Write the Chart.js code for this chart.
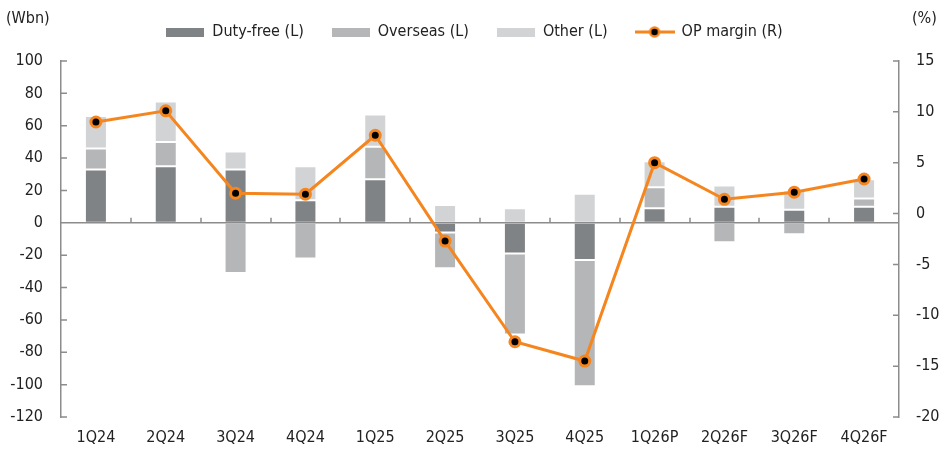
<!DOCTYPE html>
<html>
<head>
<meta charset="utf-8">
<script src="https://cdn.jsdelivr.net/npm/chart.js@4.4.1/dist/chart.umd.min.js"></script>
<style>
  html, body { margin: 0; padding: 0; background: #fff; }
  #wrap { position: relative; width: 949px; height: 453px; }
  .unit { position: absolute; top: 8px; font: 16px 'Liberation Sans Narrow', 'DejaVu Sans Condensed', sans-serif; color: #222; }
</style>
</head>
<body>
<div id="wrap">
  <canvas id="chart" width="949" height="453"></canvas>
  <span class="unit" style="left:6px">(Wbn)</span>
  <span class="unit" style="left:912px">(%)</span>
</div>
<script>
const quarters = ['1Q24', '2Q24', '3Q24', '4Q24', '1Q25', '2Q25', '3Q25', '4Q25', '1Q26P', '2Q26F', '3Q26F', '4Q26F'];
const dutyFree = [33, 35, 33, 14, 27, -6, -19, -23, 9, 10, 8, 10];
const overseas = [13, 15, -31, -22, 20, -22, -50, -78, 13, -12, -7, 5];
const other = [20, 25, 11, 21, 20, 11, 9, 18, 16, 13, 12, 12];
const opMargin = [9.0, 10.1, 2.0, 1.9, 7.7, -2.7, -12.6, -14.5, 5.0, 1.4, 2.1, 3.4];

const FONT = "'Liberation Sans Narrow', 'DejaVu Sans Condensed', sans-serif";
const TEXT = '#222';
const AXIS = '#8c8c8c';
const ORANGE = '#f5861f';

// legend icons
function boxIcon(color) {
  const c = document.createElement('canvas');
  c.width = 38; c.height = 9;
  const g = c.getContext('2d');
  g.fillStyle = color;
  g.fillRect(0, 0, 38, 9);
  return c;
}
function lineIcon() {
  const c = document.createElement('canvas');
  c.width = 40; c.height = 14;
  const g = c.getContext('2d');
  g.strokeStyle = ORANGE; g.lineWidth = 3;
  g.beginPath(); g.moveTo(0, 7); g.lineTo(40, 7); g.stroke();
  g.beginPath(); g.arc(20, 7, 4.5, 0, Math.PI * 2);
  g.fillStyle = '#000'; g.fill();
  g.lineWidth = 2.5; g.stroke();
  return c;
}

// zero line with category ticks, inward y ticks
const axisDecor = {
  id: 'axisDecor',
  beforeDatasetDraw(chart, args) {
    if (args.index !== 3) return;
    const { ctx, chartArea, scales: { x, y, y1 } } = chart;
    ctx.save();
    ctx.strokeStyle = AXIS;
    ctx.lineWidth = 1.5;
    const y0 = y.getPixelForValue(0);
    ctx.beginPath();
    ctx.moveTo(chartArea.left, y0);
    ctx.lineTo(chartArea.right, y0);
    for (let i = 0; i < quarters.length - 1; i++) {
      const px = Math.round((x.getPixelForValue(i) + x.getPixelForValue(i + 1)) / 2);
      ctx.moveTo(px, y0);
      ctx.lineTo(px, y0 - 5);
    }
    y.ticks.forEach(t => {
      const py = y.getPixelForValue(t.value);
      ctx.moveTo(chartArea.left, py);
      ctx.lineTo(chartArea.left + 6, py);
    });
    y1.ticks.forEach(t => {
      const py = y1.getPixelForValue(t.value);
      ctx.moveTo(chartArea.right, py);
      ctx.lineTo(chartArea.right - 6, py);
    });
    ctx.stroke();
    ctx.restore();
  }
};

const legendHeight = {
  id: 'legendHeight',
  beforeInit(chart) {
    const fit = chart.legend.fit;
    chart.legend.fit = function () {
      fit.bind(chart.legend)();
      this.height += 11;
    };
  }
};

const legendItems = [
  { text: 'Duty-free (L)', pointStyle: boxIcon('#808386') },
  { text: 'Overseas (L)', pointStyle: boxIcon('#b5b6b8') },
  { text: 'Other (L)', pointStyle: boxIcon('#d2d3d5') },
  { text: 'OP margin (R)', pointStyle: lineIcon() }
];

const barStyle = {
  type: 'bar',
  yAxisID: 'y',
  stack: 'sales',
  order: 1,
  borderColor: '#fff',
  borderWidth: 1,
  borderSkipped: false,
  barPercentage: 0.315,
  categoryPercentage: 1
};

new Chart(document.getElementById('chart'), {
  data: {
    labels: quarters,
    datasets: [
      { ...barStyle, label: 'Duty-free (L)', data: dutyFree, backgroundColor: '#808386' },
      { ...barStyle, label: 'Overseas (L)', data: overseas, backgroundColor: '#b5b6b8' },
      { ...barStyle, label: 'Other (L)', data: other, backgroundColor: '#d2d3d5' },
      {
        type: 'line',
        label: 'OP margin (R)',
        data: opMargin,
        yAxisID: 'y1',
        order: 0,
        borderColor: ORANGE,
        borderWidth: 3,
        pointRadius: 5,
        pointBackgroundColor: '#000',
        pointBorderColor: ORANGE,
        pointBorderWidth: 3,
        tension: 0
      }
    ]
  },
  options: {
    responsive: false,
    animation: false,
    layout: { padding: { left: 0, right: 0, top: -4, bottom: 6 } },
    plugins: {
      tooltip: { enabled: false },
      legend: {
        position: 'top',
        labels: {
          usePointStyle: true,
          pointStyleWidth: 38,
          padding: 28,
          color: TEXT,
          font: { family: FONT, size: 16 },
          generateLabels: () => legendItems.map((it, i) => ({
            text: it.text,
            pointStyle: it.pointStyle,
            fillStyle: 'transparent',
            strokeStyle: 'transparent',
            lineWidth: 0,
            fontColor: TEXT,
            hidden: false,
            datasetIndex: i
          }))
        }
      }
    },
    scales: {
      x: {
        grid: { display: false, drawTicks: false },
        border: { display: false },
        ticks: { color: TEXT, font: { family: FONT, size: 16 }, padding: 11, autoSkip: false, maxRotation: 0 },
        afterFit: s => { s.height = 30; }
      },
      y: {
        position: 'left',
        stacked: true,
        min: -120,
        max: 100,
        grid: { display: false, drawTicks: false },
        border: { display: true, color: AXIS, width: 1.5 },
        ticks: { stepSize: 20, color: TEXT, font: { family: FONT, size: 16 }, padding: 18 },
        afterFit: s => { s.width = 61; }
      },
      y1: {
        position: 'right',
        min: -20,
        max: 15,
        grid: { display: false, drawTicks: false },
        border: { display: true, color: AXIS, width: 1.5 },
        ticks: { stepSize: 5, color: TEXT, font: { family: FONT, size: 16 }, padding: 17 },
        afterFit: s => { s.width = 50; }
      }
    }
  },
  plugins: [axisDecor, legendHeight]
});
</script>
</body>
</html>
